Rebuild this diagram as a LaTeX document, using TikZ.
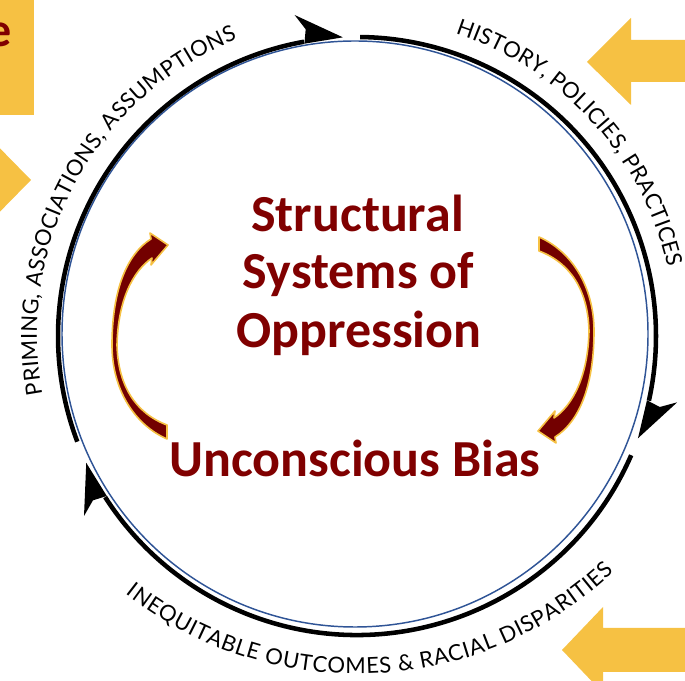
\documentclass[tikz,border=0pt]{standalone}
\usepackage{fontspec}
\setmainfont{Carlito}
\newfontfamily\arcfont{Lato}
\usetikzlibrary{calc,decorations.text}
\definecolor{gold}{RGB}{246,193,67}
\definecolor{txtred}{RGB}{128,0,0}
\definecolor{arrred}{RGB}{115,0,0}
\definecolor{ringblue}{RGB}{47,84,150}
\newcommand\ringhead[1]{\fill ($(C)+({#1+8.3}:327)$) -- ($(C)+(#1:299)$) -- ($(C)+({#1+7.5}:297)$) -- ($(C)+({#1+6.8}:311)$) -- cycle;}
\begin{document}
\begin{tikzpicture}[x=0.75pt,y=0.75pt,
  ring/.style={line width=3.4pt, draw=black},
  bluering/.style={line width=1.1pt, draw=ringblue},
  goldshape/.style={fill=gold},
  cycarrow/.style={fill=arrred, draw=gold, line width=1.2pt, line join=round},
  bigtext/.style={text=txtred, font=\fontsize{39}{47}\selectfont\bfseries, inner sep=0pt, anchor=base},
  arcfmt/.style={decorate, decoration={text along path, text align=fit to path, text={#1}}}
]
\useasboundingbox (0,0) rectangle (685,681);
\clip (0,0) rectangle (685,681);
\coordinate (C) at (357,345);
\coordinate (B) at (355,347);
\coordinate (Cb) at (357,381);
\coordinate (P) at (353,343);

% gold shapes
\fill[goldshape] (-5,566) rectangle (34,690);
\node[text=txtred, font=\fontsize{36}{42}\selectfont\bfseries, inner sep=0pt, anchor=base east] (e) at (12,634) {e};
\fill[goldshape] (-20,553) -- (31,501) -- (-20,449) -- cycle;
\fill[goldshape] (587,619) -- (631,663) -- (631,641) -- (695,641) -- (695,599) -- (631,599) -- (631,576) -- cycle;
\fill[goldshape] (562,31) -- (603,74) -- (603,53) -- (695,53) -- (695,9) -- (603,9) -- (603,-12) -- cycle;

% rings
\draw[bluering] (B) circle[radius=293];
\draw[ring] ($(C)+(89.4:299)$) arc[start angle=89.4, end angle=-12.5, radius=299];
\draw[ring] ($(C)+(-23.5:299)$) arc[start angle=-23.5, end angle=-147.4, radius=299];
\draw[ring] ($(C)+(200.7:299)$) arc[start angle=200.7, end angle=100.2, radius=299];
\ringhead{92.7}
\ringhead{-20}
\ringhead{205.1}

% arc texts
\path[arcfmt={|\arcfont\fontsize{16.5}{19}\selectfont|HISTORY, POLICIES, PRACTICES}]
  ($(C)+(72:318)$) arc[start angle=72, end angle=12.5, radius=318];
\path[arcfmt={|\arcfont\fontsize{16.5}{19}\selectfont|PRIMING, ASSOCIATIONS, ASSUMPTIONS}]
  ($(C)+(190.5:320)$) arc[start angle=190.5, end angle=112, radius=320];
\path[arcfmt={|\arcfont\fontsize{16.5}{19}\selectfont|INEQUITABLE OUTCOMES {\&} RACIAL DISPARITIES}]
  ($(Cb)+(231.8:374)$) arc[start angle=231.8, end angle=313.4, radius=374];

% cycle arrows
\filldraw[cycarrow] (167,242) .. controls (135,256) and (112,291) .. (112,336)
  .. controls (112,391) and (127,427) .. (151,442)
  -- (150,448) -- (168,436) -- (151,416) -- (152,423)
  .. controls (133,410) and (118,381) .. (117,336)
  .. controls (118,296) and (135,268) .. (167,256) -- cycle;
\filldraw[cycarrow, rotate around={180:(P)}] (167,242) .. controls (135,256) and (112,291) .. (112,336)
  .. controls (112,391) and (127,427) .. (151,442)
  -- (150,448) -- (168,436) -- (151,416) -- (152,423)
  .. controls (133,410) and (118,381) .. (117,336)
  .. controls (118,296) and (135,268) .. (167,256) -- cycle;

% central text
\node[bigtext] (t1) at (357.5,449) {Structural};
\node[bigtext] (t2) at (358.5,392) {Systems of};
\node[bigtext] (t3) at (359,333) {Oppression};
\node[bigtext] (t4) at (355,204) {Unconscious Bias};
\end{tikzpicture}
\end{document}
